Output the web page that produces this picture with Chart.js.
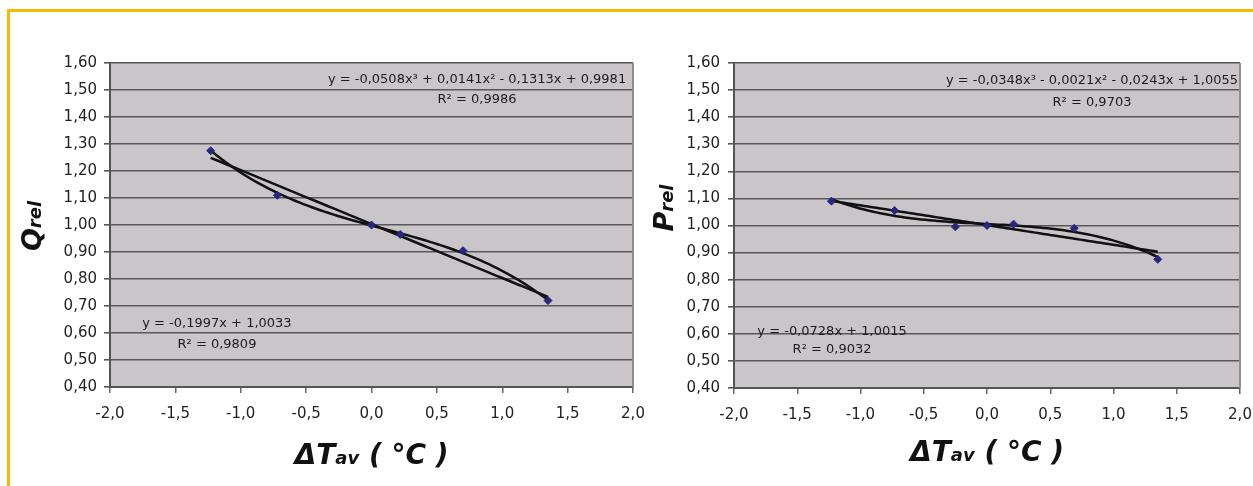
<!DOCTYPE html>
<html>
<head>
<meta charset="utf-8">
<title>Q_rel and P_rel versus ΔT_av</title>
<script src="https://cdn.jsdelivr.net/npm/chart.js@4.4.1/dist/chart.umd.min.js"></script>
<style>
  html, body { margin: 0; padding: 0; background: #ffffff; }
  #page { position: relative; width: 1253px; height: 486px; overflow: hidden; background: #ffffff; }
  #frame { position: absolute; left: 7px; top: 9px; width: 1260px; height: 490px;
           border-top: 3px solid #f6b800; border-left: 3px solid #f6b800; }
  canvas { position: absolute; top: 0; }
  #chartQ { left: 0; }
  #chartP { left: 650px; }
</style>
</head>
<body>
<div id="page">
  <div id="frame"></div>
  <canvas id="chartQ" width="650" height="486"></canvas>
  <canvas id="chartP" width="603" height="486"></canvas>
</div>
<script>
// Measured points: temperature deviation vs relative flow (Q) and relative power (P)
const qX = [-1.23, -0.72, 0.00, 0.22, 0.70, 1.35];
const qY = [1.275, 1.11, 1.00, 0.965, 0.905, 0.72];
const pX = [-1.23, -0.73, -0.25, 0.00, 0.21, 0.69, 1.35];
const pY = [1.09, 1.055, 0.995, 1.00, 1.005, 0.99, 0.875];

// Trendline coefficients, highest power first
const qCubic = [-0.0508, 0.0141, -0.1313, 0.9981];
const qLinear = [-0.1997, 1.0033];
const pCubic = [-0.0348, -0.0021, -0.0243, 1.0055];
const pLinear = [-0.0728, 1.0015];

// Trendline equation texts
const qCubicText = ['y = -0,0508x³ + 0,0141x² - 0,1313x + 0,9981', 'R² = 0,9986'];
const qLinearText = ['y = -0,1997x + 1,0033', 'R² = 0,9809'];
const pCubicText = ['y = -0,0348x³ - 0,0021x² - 0,0243x + 1,0055', 'R² = 0,9703'];
const pLinearText = ['y = -0,0728x + 1,0015', 'R² = 0,9032'];

// Axis ticks
const xTicks = [-2.0, -1.5, -1.0, -0.5, 0.0, 0.5, 1.0, 1.5, 2.0];
const xTickLabels = ['-2,0', '-1,5', '-1,0', '-0,5', '0,0', '0,5', '1,0', '1,5', '2,0'];
const yTicks = [0.4, 0.5, 0.6, 0.7, 0.8, 0.9, 1.0, 1.1, 1.2, 1.3, 1.4, 1.5, 1.6];
const yTickLabels = ['0,40', '0,50', '0,60', '0,70', '0,80', '0,90', '1,00', '1,10', '1,20', '1,30', '1,40', '1,50', '1,60'];

// Axis titles (main part + subscript)
const xTitle = [['ΔT', 'big'], ['av', 'small'], [' ( °C )', 'big']];
const qTitle = [['Q', 'big'], ['rel', 'small']];
const pTitle = [['P', 'big'], ['rel', 'small']];

function polyval(coefs, x) {
  return coefs.reduce((acc, c) => acc * x + c, 0);
}

// Sample a trendline over the measured x range
function trendPoints(xs, coefs) {
  const lo = Math.min(...xs), hi = Math.max(...xs);
  const n = 80, pts = [];
  for (let i = 0; i <= n; i++) {
    const x = lo + (hi - lo) * i / n;
    pts.push({ x: x, y: polyval(coefs, x) });
  }
  return pts;
}

const FONT = 'DejaVu Sans';

function tickLabel(values, labels) {
  return (v) => {
    const i = values.findIndex(t => Math.abs(t - v) < 1e-6);
    return i >= 0 ? labels[i] : '';
  };
}

const plotBackground = {
  id: 'plotBackground',
  beforeDraw(chart) {
    const { ctx, chartArea: a } = chart;
    ctx.save();
    ctx.fillStyle = '#c9c5c9';
    ctx.fillRect(a.left, a.top, a.right - a.left, a.bottom - a.top);
    ctx.restore();
  },
  beforeDatasetsDraw(chart) {
    const { ctx, chartArea: a } = chart;
    ctx.save();
    ctx.strokeStyle = '#8e8e8e';
    ctx.lineWidth = 2;
    ctx.beginPath();
    ctx.moveTo(a.right, a.top);
    ctx.lineTo(a.right, a.bottom);
    ctx.stroke();
    ctx.restore();
  }
};

function drawRich(ctx, parts, fonts) {
  let w = 0;
  parts.forEach(([t, k]) => { ctx.font = fonts[k]; w += ctx.measureText(t).width; });
  let x = -w / 2;
  parts.forEach(([t, k]) => {
    ctx.font = fonts[k];
    ctx.fillText(t, x, 0);
    x += ctx.measureText(t).width;
  });
}

const textLayer = {
  id: 'textLayer',
  afterDraw(chart, args, opts) {
    const { ctx, chartArea: a, scales } = chart;
    ctx.save();
    ctx.fillStyle = '#1c1c1c';
    ctx.textAlign = 'center';
    ctx.textBaseline = 'middle';
    ctx.font = '13px "' + FONT + '"';
    opts.labels.forEach(l => {
      const px = scales.x.getPixelForValue(l.x);
      l.lines.forEach((t, i) => {
        ctx.fillText(t, px, scales.y.getPixelForValue(l.y[i]));
      });
    });

    ctx.textAlign = 'left';
    ctx.textBaseline = 'alphabetic';
    ctx.fillStyle = '#111111';
    const xFonts = { big: 'italic bold 28px "' + FONT + '"', small: 'italic bold 18px "' + FONT + '"' };
    ctx.save();
    ctx.translate((a.left + a.right) / 2, opts.xTitleBaseline);
    drawRich(ctx, xTitle, xFonts);
    ctx.restore();

    const yFonts = { big: 'italic bold 27px "' + FONT + '"', small: 'italic bold 18px "' + FONT + '"' };
    ctx.save();
    ctx.translate(opts.yTitleBaseline, opts.yTitleCenter);
    ctx.rotate(-Math.PI / 2);
    drawRich(ctx, opts.yTitle, yFonts);
    ctx.restore();
    ctx.restore();
  }
};

function makeChart(id, xs, ys, cubic, linear, setup) {
  return new Chart(document.getElementById(id), {
    type: 'scatter',
    data: {
      datasets: [
        {
          data: xs.map((x, i) => ({ x: x, y: ys[i] })),
          pointStyle: 'rectRot', pointRadius: 4, pointHoverRadius: 4,
          backgroundColor: '#27277f', borderColor: '#27277f', borderWidth: 1,
          order: 0
        },
        {
          data: trendPoints(xs, cubic), showLine: true, pointRadius: 0,
          borderColor: '#111111', borderWidth: 2.5, order: 1
        },
        {
          data: trendPoints(xs, linear), showLine: true, pointRadius: 0,
          borderColor: '#111111', borderWidth: 2.5, order: 1
        }
      ]
    },
    options: {
      responsive: false,
      animation: false,
      events: [],
      layout: { padding: { left: 0, top: 63, right: setup.padRight, bottom: 0 } },
      plugins: {
        legend: { display: false },
        tooltip: { enabled: false },
        textLayer: setup.text
      },
      scales: {
        x: {
          type: 'linear', min: -2, max: 2,
          afterBuildTicks: s => { s.ticks = xTicks.map(v => ({ value: v })); },
          afterFit: s => { s.height = setup.xHeight; s.paddingLeft = 0; s.paddingRight = 0; },
          ticks: {
            callback: tickLabel(xTicks, xTickLabels),
            font: { family: FONT, size: 15 }, color: '#222222',
            padding: setup.xPad, maxRotation: 0, autoSkip: false
          },
          grid: { drawOnChartArea: false, drawTicks: true, tickLength: 6, color: '#666666', lineWidth: 1.5 },
          border: { display: true, color: '#555555', width: 2 }
        },
        y: {
          type: 'linear', min: 0.4, max: 1.6,
          afterBuildTicks: s => { s.ticks = yTicks.map(v => ({ value: v })); },
          afterFit: s => { s.width = setup.yWidth; s.paddingTop = 0; s.paddingBottom = 0; },
          ticks: {
            callback: tickLabel(yTicks, yTickLabels),
            font: { family: FONT, size: 15 }, color: '#222222',
            padding: setup.yPad, autoSkip: false
          },
          grid: { color: '#585858', lineWidth: 1.6, tickLength: 6 },
          border: { display: true, color: '#555555', width: 2 }
        }
      }
    },
    plugins: [plotBackground, textLayer]
  });
}

makeChart('chartQ', qX, qY, qCubic, qLinear, {
  padRight: 17, yWidth: 110, xHeight: 99, xPad: 12, yPad: 7,
  text: {
    labels: [
      { x: 0.807, y: [1.537, 1.463], lines: qCubicText },
      { x: -1.182, y: [0.633, 0.556], lines: qLinearText }
    ],
    xTitleBaseline: 464, yTitleBaseline: 41, yTitleCenter: 226, yTitle: qTitle
  }
});

makeChart('chartP', pX, pY, pCubic, pLinear, {
  padRight: 13, yWidth: 84, xHeight: 98, xPad: 12, yPad: 8,
  text: {
    labels: [
      { x: 0.830, y: [1.534, 1.452], lines: pCubicText },
      { x: -1.225, y: [0.610, 0.540], lines: pLinearText }
    ],
    xTitleBaseline: 461, yTitleBaseline: 23, yTitleCenter: 208, yTitle: pTitle
  }
});
</script>
</body>
</html>
